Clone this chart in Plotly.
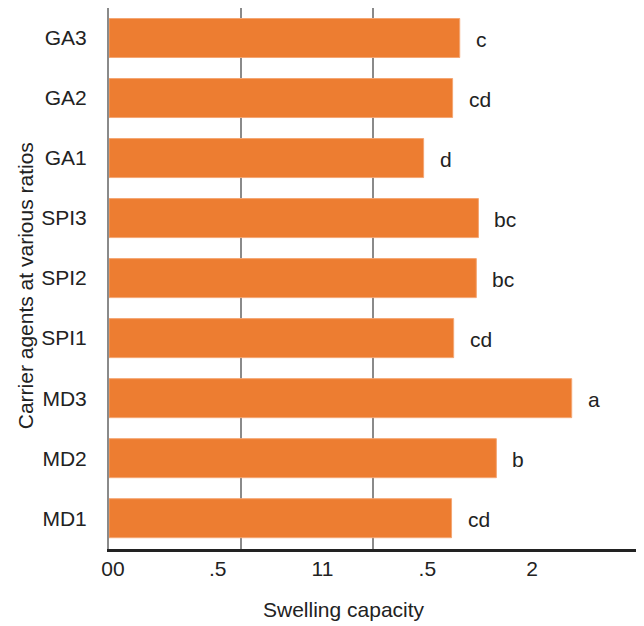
import plotly.graph_objects as go

# Carrier agents (bottom to top) and their swelling capacity
agents = ["MD1", "MD2", "MD3", "SPI1", "SPI2", "SPI3", "GA1", "GA2", "GA3"]
swelling = [1.30, 1.47, 1.756, 1.308, 1.394, 1.402, 1.194, 1.304, 1.331]
groups = ["cd", "b", "a", "cd", "bc", "bc", "d", "cd", "c"]

# Bottom axis labels
tick_vals = [0, 0.5, 1, 1.5, 2]
tick_text = ["00", ".5", "11", ".5", "2"]

FONT = "Liberation Sans, Arial, sans-serif"
FS = 21
ORANGE = "#ED7D31"
TXT = "#222222"

fig = go.Figure()
fig.add_trace(go.Bar(
    y=agents, x=swelling, orientation="h",
    marker=dict(color=ORANGE, line=dict(color="#F4A673", width=1)),
    hoverinfo="skip", showlegend=False,
))
# Invisible trace that carries the secondary bottom axis
fig.add_trace(go.Scatter(x=[0], y=[agents[0]], xaxis="x2", mode="markers",
                         marker=dict(opacity=0), hoverinfo="skip", showlegend=False))

for a, v, g in zip(agents, swelling, groups):
    fig.add_annotation(x=v, y=a, text=g, showarrow=False, xanchor="left",
                       xshift=14, yshift=-1, font=dict(family=FONT, size=FS, color=TXT))

# Axis titles
fig.add_annotation(text="Swelling capacity", xref="paper", yref="paper",
                   x=0.446, y=-0.112, xanchor="center", yanchor="middle",
                   showarrow=False, font=dict(family=FONT, size=FS, color=TXT))
fig.add_annotation(text="Carrier agents at various ratios", xref="paper", yref="paper",
                   x=-0.159, y=0.486, xanchor="center", yanchor="middle",
                   textangle=-90, showarrow=False,
                   font=dict(family=FONT, size=FS, color=TXT))

fig.update_layout(
    width=644, height=626,
    margin=dict(l=109, r=8, t=8, b=77),
    paper_bgcolor="white", plot_bgcolor="white",
    bargap=0.35,
    font=dict(family=FONT, size=FS, color=TXT),
    xaxis=dict(
        range=[0, 2.0], tickvals=[0.5, 1.0], showticklabels=False,
        showgrid=True, gridcolor="#8a8a8a", gridwidth=2,
        zeroline=False, showline=True, linecolor=TXT, linewidth=3,
        ticks="", fixedrange=True,
    ),
    xaxis2=dict(
        overlaying="x", anchor="y", side="bottom",
        range=[-0.019, 2.496], tickvals=tick_vals, ticktext=tick_text,
        showgrid=False, zeroline=False, showline=False, ticks="",
        ticklabelstandoff=5,
        tickfont=dict(family=FONT, size=FS, color=TXT),
    ),
    yaxis=dict(
        categoryorder="array", categoryarray=agents,
        showline=True, linecolor="#8a8a8a", linewidth=2,
        showgrid=False, zeroline=False, ticks="",
        ticklabelstandoff=16,
        tickfont=dict(family=FONT, size=FS, color=TXT),
    ),
)

fig.write_html("out.html")
